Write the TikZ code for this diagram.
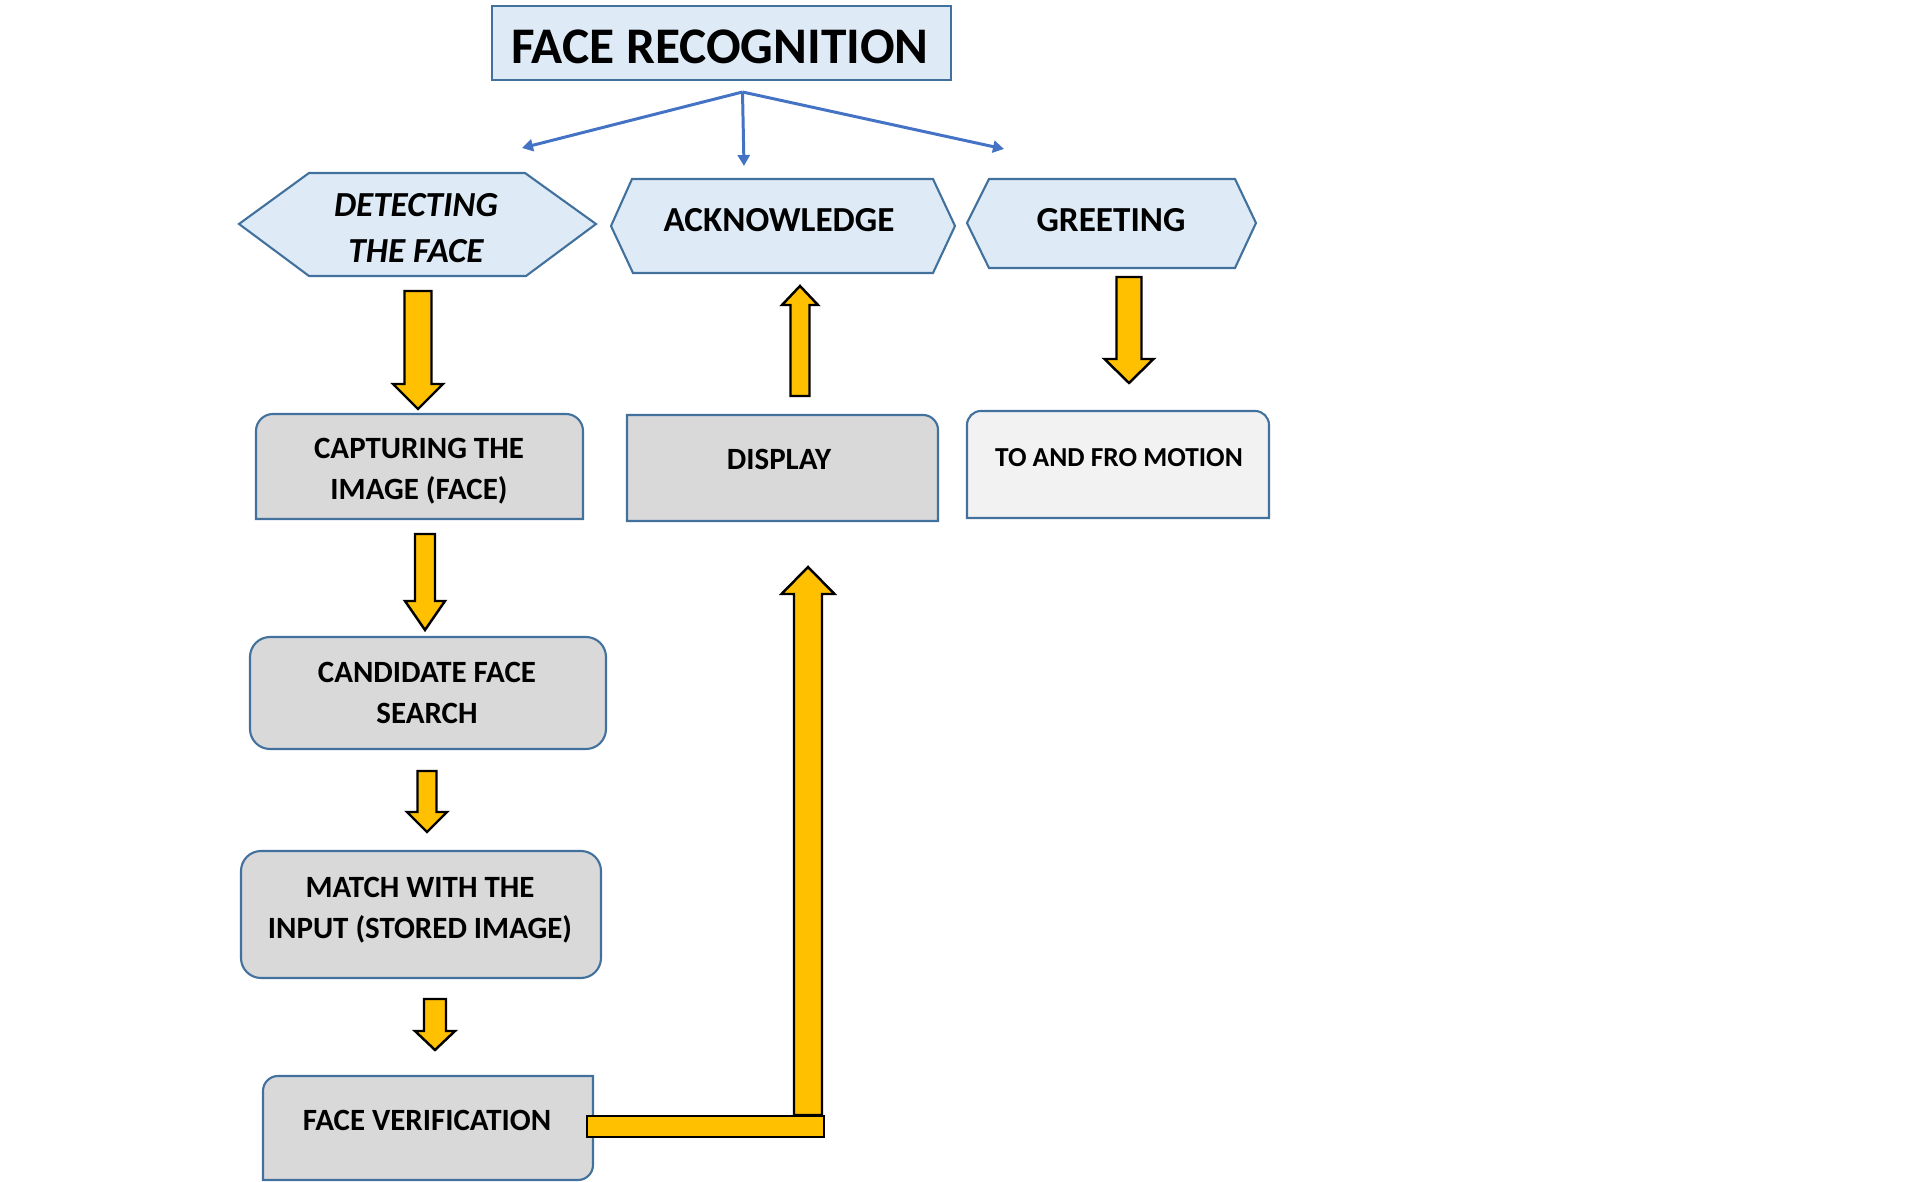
\documentclass[tikz,border=0pt]{standalone}
\usepackage{fontspec}
\setmainfont{Carlito}
\usetikzlibrary{arrows.meta}
\definecolor{hexblue}{HTML}{DEEBF7}
\definecolor{edgeblue}{HTML}{41719C}
\definecolor{linkblue}{HTML}{4472C4}
\definecolor{boxgray}{HTML}{D9D9D9}
\definecolor{boxpale}{HTML}{F2F2F2}
\definecolor{arrowyellow}{HTML}{FFC000}
\tikzset{
  hexshape/.style={fill=hexblue, draw=edgeblue, line width=0.6pt},
  boxshape/.style={fill=boxgray, draw=edgeblue, line width=0.6pt},
  hextext/.style={font=\fontsize{10}{13.1}\selectfont\bfseries, align=center, inner sep=0pt},
  boxtext/.style={font=\fontsize{8.8}{11.6}\selectfont\bfseries, align=center, inner sep=0pt},
  yarrow/.style={fill=arrowyellow, draw=black, line width=0.7pt, line join=miter},
  link/.style={draw=linkblue, line width=0.85pt, -{Triangle[length=0.11cm,width=0.12cm]}}
}
% x, tail, base of head, tip, half shaft, half head
\newcommand{\blockarrow}[6]{%
  \filldraw[yarrow] (#1-#5,#2) -- (#1+#5,#2) -- (#1+#5,#3) -- (#1+#6,#3)
    -- (#1,#4) -- (#1-#6,#3) -- (#1-#5,#3) -- cycle;}
\begin{document}
\begin{tikzpicture}[x=0.01cm,y=0.01cm]
\useasboundingbox (0,0) rectangle (1914,1181);
% title
\filldraw[hexshape] (492,1101) rectangle (951,1175);
\node[font=\fontsize{14.6}{17}\selectfont\bfseries, inner sep=0pt] (title) at (720,1134) {FACE RECOGNITION};
\coordinate (split) at (742.5,1089);
\coordinate (toDetect) at (522,1033);
\coordinate (toAck) at (744,1015);
\coordinate (toGreet) at (1004,1032);
\foreach \t in {toDetect,toAck,toGreet}
\draw[link] (split) -- (\t);
% top row
\filldraw[hexshape] (239,957) -- (309,1008) -- (525,1008) -- (596,957) -- (526,905) -- (309,905) -- cycle;
\filldraw[hexshape] (611,955) -- (632,1002) -- (933,1002) -- (955,955) -- (933,908) -- (633,908) -- cycle;
\filldraw[hexshape] (967,958) -- (989,1002) -- (1235,1002) -- (1256,958) -- (1235,913) -- (989,913) -- cycle;
\node[hextext, font=\fontsize{10}{13.1}\selectfont\bfseries\itshape] (detect) at (416,953) {DETECTING\\THE FACE};
\node[hextext] (ack) at (779,961) {ACKNOWLEDGE};
\node[hextext] (greet) at (1111,961) {GREETING};
% boxes
\filldraw[boxshape] (256,662) -- (256,750) arc[start angle=180,end angle=90,radius=0.17cm]
  -- (566,767) arc[start angle=90,end angle=0,radius=0.17cm] -- (583,662) -- cycle;
\filldraw[boxshape] (627,660) -- (627,766) -- (923,766) arc[start angle=90,end angle=0,radius=0.15cm]
  -- (938,660) -- cycle;
\filldraw[boxshape, fill=boxpale] (967,663) -- (967,756) arc[start angle=180,end angle=90,radius=0.14cm]
  -- (1255,770) arc[start angle=90,end angle=0,radius=0.14cm] -- (1269,663) -- cycle;
\filldraw[boxshape, rounded corners=0.2cm] (250,432) rectangle (606,544);
\filldraw[boxshape, rounded corners=0.2cm] (241,203) rectangle (601,330);
\filldraw[boxshape] (263,1) -- (263,90) arc[start angle=180,end angle=90,radius=0.15cm]
  -- (593,105) -- (593,16) arc[start angle=0,end angle=-90,radius=0.15cm] -- cycle;
\node[boxtext] (capture) at (419,709.5) {CAPTURING THE\\IMAGE (FACE)};
\node[boxtext] (display) at (779,722) {DISPLAY};
\node[boxtext, font=\fontsize{7.8}{10}\selectfont\bfseries] (motion) at (1119,723) {TO AND FRO MOTION};
\node[boxtext] (candidate) at (427,488) {CANDIDATE FACE\\SEARCH};
\node[boxtext] (match) at (420,271) {MATCH WITH THE\\INPUT (STORED IMAGE)};
\node[boxtext] (verify) at (427,61) {FACE VERIFICATION};
% yellow arrows
\foreach \x/\tail/\base/\tip/\s/\h in {418/890/797/772/13.5/25, 1129/904/822/798/12.5/24.5,
  800/785/876/895/9.5/18, 425/647/580/551/10/20, 427/410/369/349/9.5/20,
  435/182/150/131/11/20, 808/66/587/614/14/26.5}
\blockarrow{\x}{\tail}{\base}{\tip}{\s}{\h}
\filldraw[yarrow] (587,44) rectangle (824,65);
\end{tikzpicture}
\end{document}
